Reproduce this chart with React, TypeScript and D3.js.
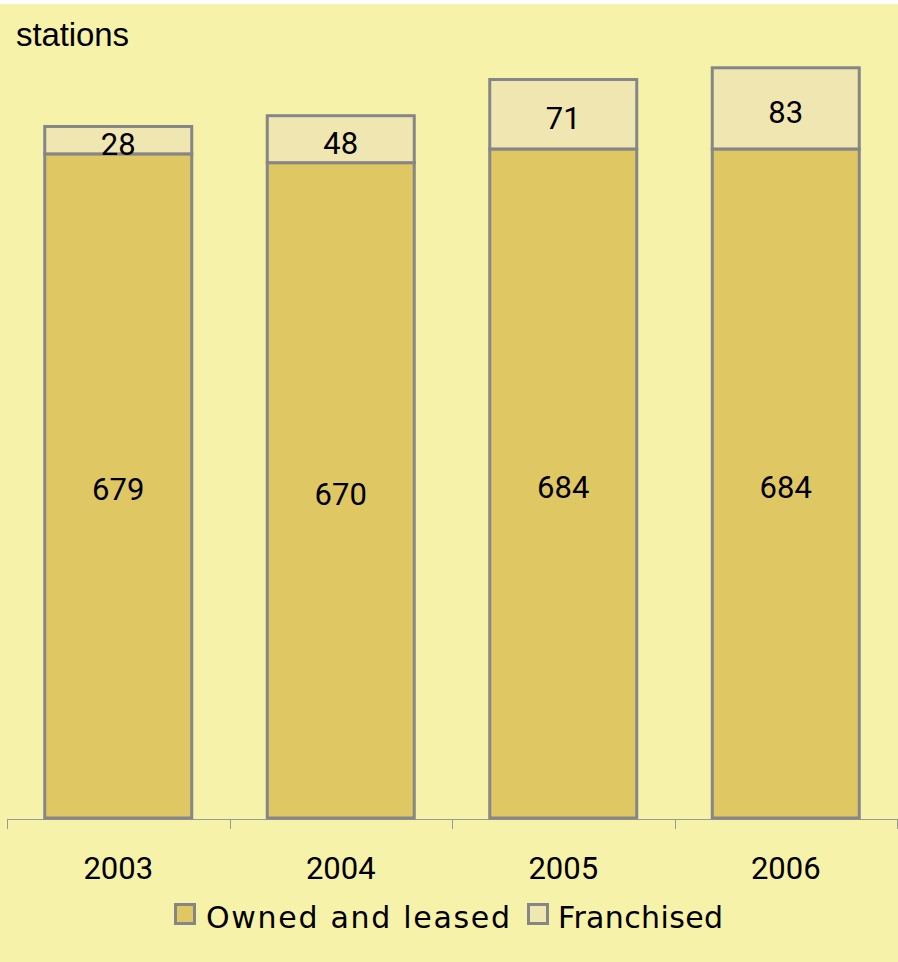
import React from "react";
import * as d3 from "d3";

const years = ["2003", "2004", "2005", "2006"];
const ownedValues = [679, 670, 684, 684];
const franchisedValues = [28, 48, 71, 83];
const seriesNames = ["Owned and leased", "Franchised"];
const yAxisTitle = "stations";

const W = 898;
const H = 962;
const BG = "#F7F2AA";
const COLORS = ["#DFC764", "#F0E6B2"];
const STROKE = "#868686";
const NUM_FONT = "Roboto, 'Open Sans', sans-serif";
const TXT_FONT = "'DejaVu Sans', Verdana, sans-serif";

export default function App() {
  const x = d3.scaleBand<string>().domain(years).range([7, 897]).padding(0);
  const y = d3.scaleLinear().domain([0, 800]).range([818, 35.5]);
  const barW = 147;

  const rows = years.map((yr, i) => ({
    year: yr,
    owned: ownedValues[i],
    franchised: franchisedValues[i],
  }));
  const stacked = d3.stack<any>().keys(["owned", "franchised"])(rows);

  const ticks = years.map((yr) => x(yr) as number).concat([x.range()[1]]);

  const legendItems = [
    { name: seriesNames[0], color: COLORS[0], sx: 174, tx: 206, tw: 304 },
    { name: seriesNames[1], color: COLORS[1], sx: 527, tx: 558, tw: 165 },
  ];

  return (
    <svg
      width={W}
      height={H}
      style={{ position: "absolute", left: 0, top: 0, display: "block" }}
    >
      <rect x={0} y={0} width={W} height={H} fill="#ffffff" />
      <rect x={0} y={4} width={W} height={H - 4} fill={BG} />

      <text
        x={16}
        y={46}
        fontFamily="'Liberation Sans', Arial, sans-serif"
        fontSize={33}
        textLength={113}
        lengthAdjust="spacing"
        fill="#000"
      >
        {yAxisTitle}
      </text>

      {/* axis */}
      <line x1={7} x2={897} y1={819.5} y2={819.5} stroke="#9a9a9a" strokeWidth={1} />
      {ticks.map((t, i) => (
        <line
          key={i}
          x1={Math.round(t) + 0.5}
          x2={Math.round(t) + 0.5}
          y1={819}
          y2={829}
          stroke="#9a9a9a"
          strokeWidth={1}
        />
      ))}

      {/* bars */}
      {stacked.map((series, si) =>
        series.map((d, i) => {
          const cx = (x(years[i]) as number) + x.bandwidth() / 2;
          return (
            <rect
              key={`${si}-${i}`}
              x={cx - barW / 2}
              y={y(d[1])}
              width={barW}
              height={y(d[0]) - y(d[1])}
              fill={COLORS[si]}
              stroke={STROKE}
              strokeWidth={3}
            />
          );
        })
      )}

      {/* value labels */}
      {stacked.map((series, si) =>
        series.map((d, i) => {
          const cx = (x(years[i]) as number) + x.bandwidth() / 2;
          const cy = (y(d[0]) + y(d[1])) / 2;
          const v = si === 0 ? ownedValues[i] : franchisedValues[i];
          return (
            <text
              key={`l-${si}-${i}`}
              x={cx}
              y={cy}
              dy="0.47em"
              textAnchor="middle"
              fontFamily={NUM_FONT}
              fontSize={31}
              fill="#000"
            >
              {v}
            </text>
          );
        })
      )}

      {/* category labels */}
      {years.map((yr) => (
        <text
          key={yr}
          x={(x(yr) as number) + x.bandwidth() / 2}
          y={879}
          textAnchor="middle"
          fontFamily={NUM_FONT}
          fontSize={31}
          fill="#000"
        >
          {yr}
        </text>
      ))}

      {/* legend */}
      {legendItems.map((it) => (
        <g key={it.name}>
          <rect
            x={it.sx + 1.5}
            y={904.5}
            width={19}
            height={19}
            fill={it.color}
            stroke={STROKE}
            strokeWidth={3}
          />
          <text
            x={it.tx}
            y={928}
            fontFamily={TXT_FONT}
            fontSize={30}
            textLength={it.tw}
            lengthAdjust="spacing"
            fill="#000"
          >
            {it.name}
          </text>
        </g>
      ))}
    </svg>
  );
}
